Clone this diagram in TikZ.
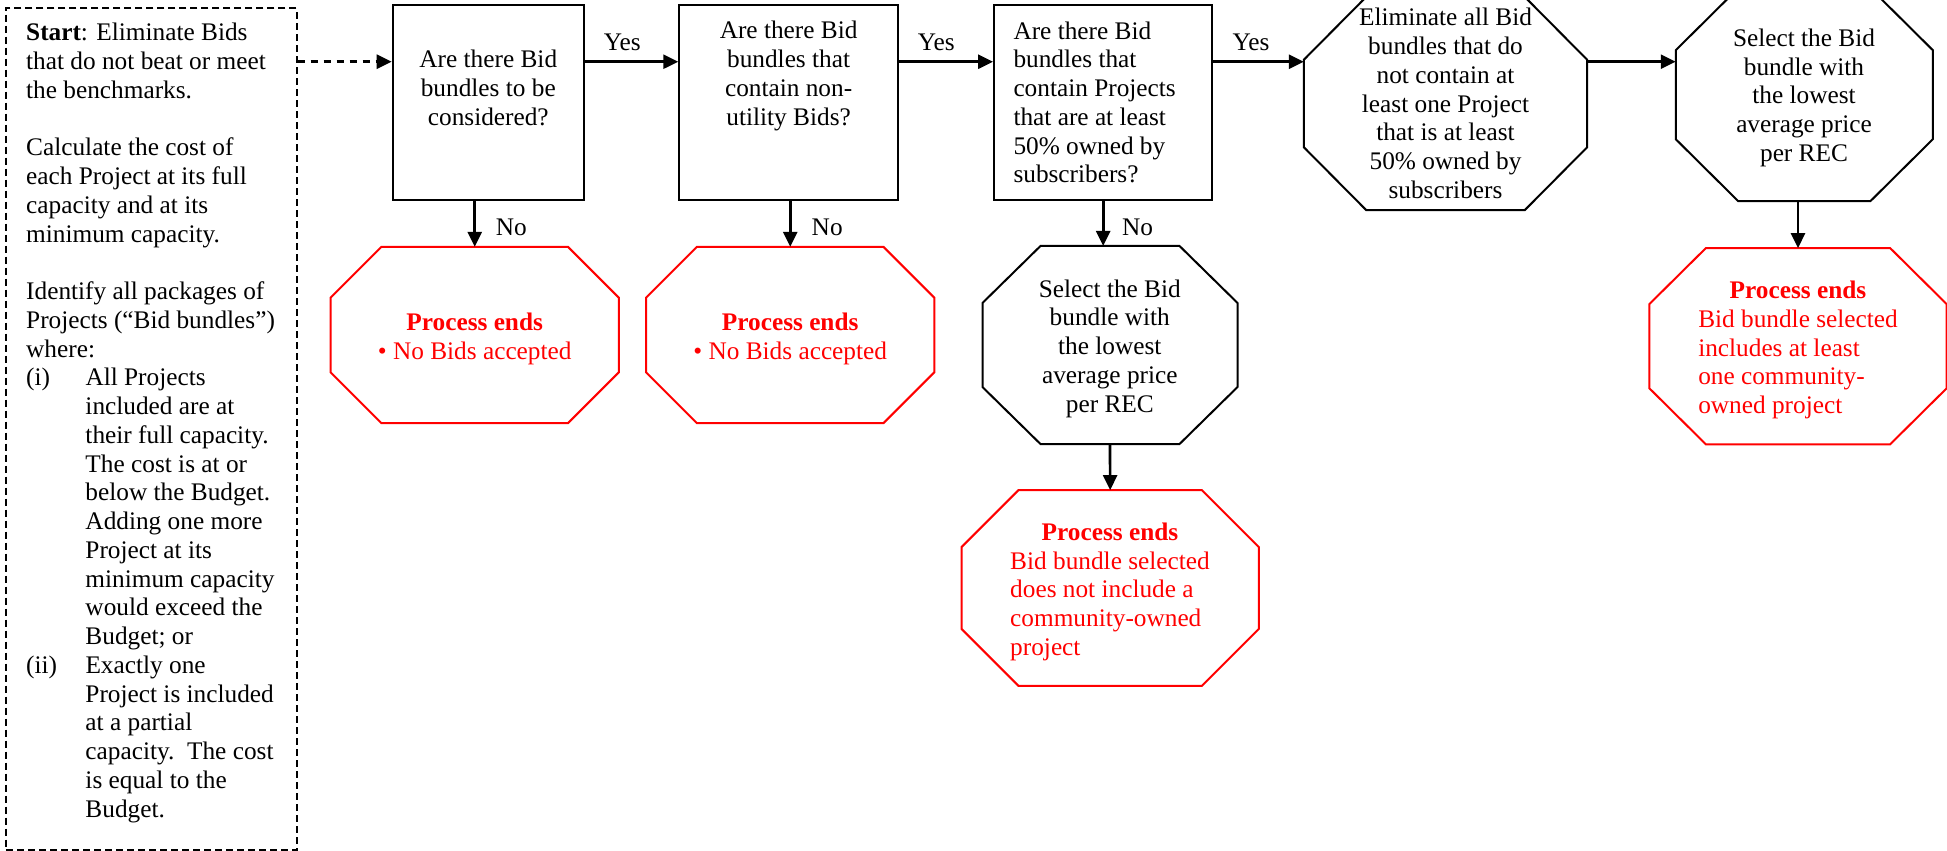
\documentclass[tikz,border=0pt]{standalone}
\usepackage{fontspec}
\setmainfont{Liberation Serif}
\usetikzlibrary{arrows.meta,calc}
\definecolor{endred}{RGB}{255,0,0}
\newcommand{\octoutline}[4]{%
  \draw[#4] ($(#1.north west)+(#2,0)$) -- ($(#1.north east)+(-#2,0)$)
    -- ($(#1.north east)+(0,#3)$) -- ($(#1.south east)+(0,-#3)$)
    -- ($(#1.south east)+(-#2,0)$) -- ($(#1.south west)+(#2,0)$)
    -- ($(#1.south west)+(0,-#3)$) -- ($(#1.north west)+(0,#3)$) -- cycle;}
\newcommand{\mytabc}[1]{\begin{tabular}{@{}c@{}}#1\end{tabular}}
\newcommand{\mytabl}[1]{\begin{tabular}{@{}l@{}}#1\end{tabular}}
\tikzset{
  qbox/.style={draw=black, line width=2pt, inner sep=0pt},
  octarea/.style={draw=none, inner sep=0pt},
  startbox/.style={draw=black, line width=1.7pt, dash pattern=on 7pt off 4pt, inner sep=0pt},
  txt/.style={inner sep=0pt, font=\fontsize{25.3}{28.75}\selectfont},
  redtxt/.style={txt, text=endred},
  lbl/.style={inner sep=0pt, anchor=base, font=\fontsize{25.3}{28.75}\selectfont},
  arr/.style={line width=2.7pt, -{Triangle[length=15pt,width=14pt]}},
  dasharr/.style={arr, dash pattern=on 7pt off 6pt},
  octblack/.style={draw=black, line width=2pt},
  octred/.style={draw=endred, line width=2pt}
}
\begin{document}
\begin{tikzpicture}[x=1pt,y=-1pt]
\useasboundingbox (0,0) rectangle (1947,851);
\clip (0,0) rectangle (1947,851);
\coordinate (row) at (0,61.7);

% start box
\node[startbox, minimum width=290.7pt, minimum height=842pt] (d) at (151.35,429) {};
\node[txt, anchor=north west] (dt) at (26,20.6) {\mytabl{%
\textbf{Start}: Eliminate Bids\\
that do not beat or meet\\
the benchmarks.\\
\\
Calculate the cost of\\
each Project at its full\\
capacity and at its\\
minimum capacity.\\
\\
Identify all packages of\\
Projects (“Bid bundles”)\\
where:\\
\makebox[59.3pt][l]{(i)}All Projects\\
\hspace*{59.3pt}included are at\\
\hspace*{59.3pt}their full capacity.\\
\hspace*{59.3pt}The cost is at or\\
\hspace*{59.3pt}below the Budget.\\
\hspace*{59.3pt}Adding one more\\
\hspace*{59.3pt}Project at its\\
\hspace*{59.3pt}minimum capacity\\
\hspace*{59.3pt}would exceed the\\
\hspace*{59.3pt}Budget; or\\
\makebox[59.3pt][l]{(ii)}Exactly one\\
\hspace*{59.3pt}Project is included\\
\hspace*{59.3pt}at a partial\\
\hspace*{59.3pt}capacity.\ \ The cost\\
\hspace*{59.3pt}is equal to the\\
\hspace*{59.3pt}Budget.}};

% question boxes
\node[qbox, minimum width=191.3pt, minimum height=195pt] (b1) at (488.35,102.5) {};
\node[qbox, minimum width=219pt, minimum height=195pt] (b2) at (788.8,102.5) {};
\node[qbox, minimum width=218.3pt, minimum height=195pt] (b3) at (1103.2,102.5) {};
\node[txt] (t1) at (488.3,90.8) {\mytabc{Are there Bid\\bundles to be\\considered?}};
\node[txt] (t2) at (788.6,76.3) {\mytabc{Are there Bid\\bundles that\\contain non-\\utility Bids?}};
\node[txt, anchor=west] (t3) at (1013.3,105.2) {\mytabl{Are there Bid\\bundles that\\contain Projects\\that are at least\\50\% owned by\\subscribers?}};

% octagons
\node[octarea, minimum width=288pt, minimum height=176pt] (o1) at (474.7,335) {};
\node[octarea, minimum width=288pt, minimum height=176pt] (o2) at (790.2,335) {};
\node[octarea, minimum width=254.6pt, minimum height=197.7pt] (o3) at (1110,345) {};
\node[octarea, minimum width=297pt, minimum height=195.4pt] (o5) at (1110.2,588) {};
\node[octarea, minimum width=283pt, minimum height=213pt] (e) at (1445.5,103.5) {};
\node[octarea, minimum width=256.7pt, minimum height=212.6pt] (s2) at (1804.3,94.7) {};
\node[octarea, minimum width=297pt, minimum height=195.7pt] (o4) at (1798,346.2) {};
\octoutline{o1}{51}{51}{octred}
\octoutline{o2}{51}{51}{octred}
\octoutline{o3}{58}{57}{octblack}
\octoutline{o5}{57}{57}{octred}
\octoutline{e}{62.5}{63}{octblack}
\octoutline{s2}{62.5}{62}{octblack}
\octoutline{o4}{56.5}{56}{octred}

\node[redtxt] (to1) at (474.7,339.5) {\mytabc{\textbf{Process ends}\\• No Bids accepted}};
\node[redtxt] (to2) at (790.2,339.5) {\mytabc{\textbf{Process ends}\\• No Bids accepted}};
\node[txt] (to3) at (1109.8,348.8) {\mytabc{Select the Bid\\bundle with\\the lowest\\average price\\per REC}};
\node[redtxt] (to5) at (1110,592) {\mytabl{\multicolumn{1}{@{}c@{}}{\textbf{Process ends}}\\Bid bundle selected\\does not include a\\community-owned\\project}};
\node[txt] (te) at (1445.5,106.3) {\mytabc{Eliminate all Bid\\bundles that do\\not contain at\\least one Project\\that is at least\\50\% owned by\\subscribers}};
\node[txt] (ts2) at (1804,98) {\mytabc{Select the Bid\\bundle with\\the lowest\\average price\\per REC}};
\node[redtxt] (to4) at (1798,350.3) {\mytabl{\multicolumn{1}{@{}c@{}}{\textbf{Process ends}}\\Bid bundle selected\\includes at least\\one community-\\owned project}};

% labels
\node[lbl] (y1) at (622.3,50.7) {Yes};
\node[lbl] (y2) at (936.3,50.7) {Yes};
\node[lbl] (y3) at (1251,50.7) {Yes};
\node[lbl] (n1) at (511.3,235) {No};
\node[lbl] (n2) at (827.2,235) {No};
\node[lbl] (n3) at (1137.5,235) {No};

% connectors
\draw[dasharr] (d.east |- row) -- (b1.west |- row);
\draw[arr] (b1.east |- row) -- (b2.west |- row);
\draw[arr] (b2.east |- row) -- (b3.west |- row);
\draw[arr] (b3.east |- row) -- (e.west |- row);
\draw[arr] (e.east |- row) -- (s2.west |- row);
\draw[arr] (b1.south -| o1.north) -- (o1.north);
\draw[arr] (b2.south -| o2.north) -- (o2.north);
\draw[arr] (b3.south) -- (b3.south |- o3.north);
\draw[arr] (o3.south) -- (o5.north);
\draw[arr] (s2.south -| o4.north) -- (o4.north);
\end{tikzpicture}
\end{document}
